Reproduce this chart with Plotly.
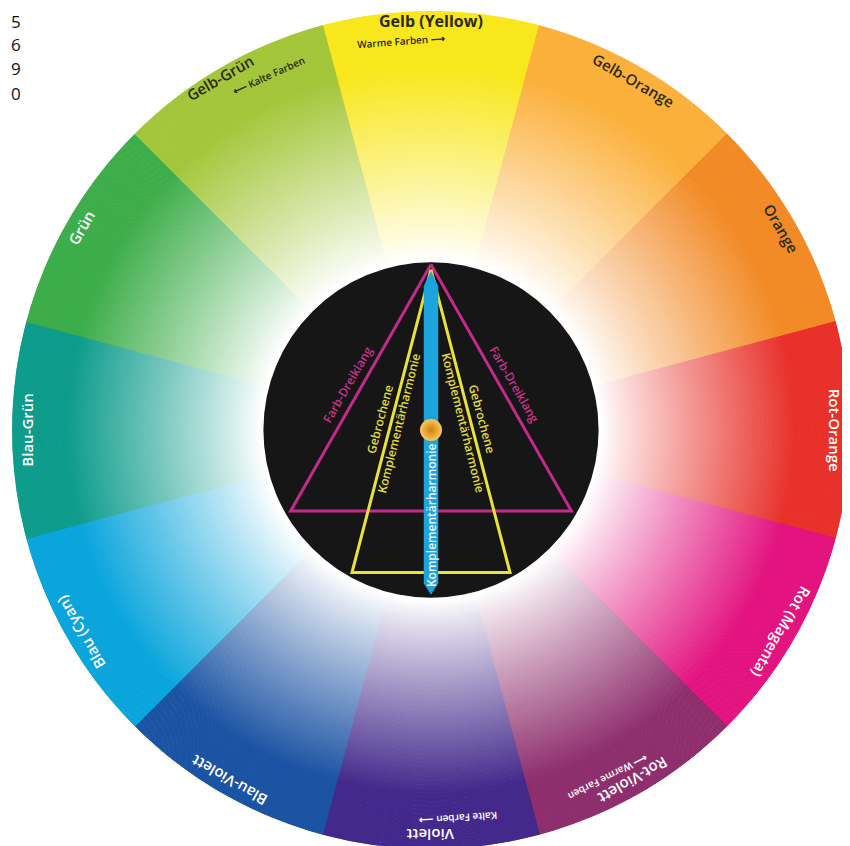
import numpy as np
import plotly.graph_objects as go

# ---------------- data ----------------
segments = ["Gelb (Yellow)", "Gelb-Orange", "Orange", "Rot-Orange", "Rot (Magenta)", "Rot-Violett",
            "Violett", "Blau-Violett", "Blau (Cyan)", "Blau-Grün", "Grün", "Gelb-Grün"]
seg_angles = [90, 60, 30, 0, -30, -60, -90, -120, -150, 180, 150, 120]
seg_span = [30] * 12
seg_colors = ["#f8e71c", "#fbb03b", "#f28a26", "#e8312a", "#e3137f", "#8e2e6d",
              "#43298b", "#1b53a3", "#0aa5dc", "#0e9c8c", "#3dad4a", "#a3c63a"]
label_colors = ["#2b2a12", "#2b2a12", "#2b2a12", "#ffffff", "#ffffff", "#ffffff",
                "#ffffff", "#ffffff", "#ffffff", "#ffffff", "#ffffff", "#2b2a12"]

hint_texts = ["Warme Farben \u27f6", "\u27f5 Kalte Farben", "Kalte Farben \u27f6", "\u27f5 Warme Farben"]
hint_angles = [94.4, 114.5, -86, -63]
hint_colors = ["#2b2a12", "#2b2a12", "#ffffff", "#ffffff"]

inner_texts = ["Farb-Dreiklang", "Farb-Dreiklang", "Gebrochene", "Gebrochene",
               "Komplementärharmonie", "Komplementärharmonie", "Komplementärharmonie"]
inner_angles = [151.5, 28.5, 168, 12, 168.5, 11.5, 270]
inner_radii = [0.226, 0.226, 0.126, 0.126, 0.079, 0.079, 0.203]
inner_rot = [-60, 60, -75, 75, -76, 76, -90]
inner_colors = ["#c8348e", "#c8348e", "#e4dd3c", "#e4dd3c", "#e4dd3c", "#e4dd3c", "#eef6fb"]

triad_angles = [90, 210, 330]          # Farb-Dreiklang
split_angles = [90, 241, 299]          # Gebrochene Komplementärharmonie
corner_digits = ["5", "6", "9", "0"]

# ---------------- geometry ----------------
OFF = 8                      # page body margin of the browser
W, H = 850, 846
ML, MR, MT, MB = 4, 8, 3, 5
w, h = W - ML - MR, H - MT - MB
R = min(w, h) / 2.0


def to_paper(rf, deg):
    a = np.radians(deg)
    return 0.5 + rf * R * np.cos(a) / w, 0.5 + rf * R * np.sin(a) / h


def mix(c, s):
    c = c.lstrip("#")
    rgb = [int(c[i:i + 2], 16) for i in (0, 2, 4)]
    out = [round(255 + (v - 255) * s) for v in rgb]
    return "rgb(%d,%d,%d)" % tuple(out)


fig = go.Figure()

# colour wheel: radial bands per wedge
n_bands = 160
edges = np.linspace(0.38, 1.0, n_bands + 1)
th, base, length, wid, cols = [], [], [], [], []
for ang, span, col in zip(seg_angles, seg_span, seg_colors):
    for i in range(n_bands):
        r0, r1 = edges[i], edges[i + 1]
        rm = (r0 + r1) / 2
        s = np.clip((rm - 0.41) / 0.46, 0, 1) ** 0.9
        th.append(ang)
        base.append(float(r0))
        length.append(float(r1 - r0))
        wid.append(span)
        cols.append(mix(col, s))
fig.add_trace(go.Barpolar(r=length, base=base, theta=th, width=wid,
                          marker=dict(color=cols, line=dict(color=cols, width=1)),
                          hoverinfo="skip"))

# black disc
fig.add_trace(go.Barpolar(r=[0.4], base=[0], theta=[0], width=[360],
                          marker=dict(color="#161616", line=dict(width=0)), hoverinfo="skip"))

# magenta triad triangle
tri_r = [0.395, 0.387, 0.387]
fig.add_trace(go.Scatterpolar(r=tri_r + [tri_r[0]], theta=triad_angles + [triad_angles[0]],
                              mode="lines", line=dict(color="#c42a8c", width=3), hoverinfo="skip"))
# yellow split-complementary triangle
spl_r = [0.383, 0.389, 0.389]
fig.add_trace(go.Scatterpolar(r=spl_r + [spl_r[0]], theta=split_angles + [split_angles[0]],
                              mode="lines", line=dict(color="#e8e23a", width=3), hoverinfo="skip"))

# blue complementary bar (pointed ends)
hw = 7 / R
bx = [0, hw, hw, 0, -hw, -hw, 0]
by = [0.378, 0.343, -0.366, -0.392, -0.366, 0.343, 0.378]
br = [float(np.hypot(x, y)) for x, y in zip(bx, by)]
bt = [float(np.degrees(np.arctan2(y, x))) for x, y in zip(bx, by)]
fig.add_trace(go.Scatterpolar(r=br, theta=bt, mode="lines", fill="toself",
                              fillcolor="#1ea4dc", line=dict(color="#1ea4dc", width=0.5),
                              hoverinfo="skip"))

# orange ball
fig.add_trace(go.Scatterpolar(r=[0], theta=[0], mode="markers",
                              marker=dict(size=22, color="#fcc85e",
                                          gradient=dict(type="radial", color="#d27e0c"),
                                          line=dict(width=0)), hoverinfo="skip"))

ann = []
# outer labels
for name, ang, col in zip(segments, seg_angles, label_colors):
    rr = 0.975 if ang == 90 else 0.965
    x, y = to_paper(rr, ang)
    if name.startswith("Gelb-Gr"):
        x, y = to_paper(0.98, 121)
    ann.append(dict(x=x, y=y, xref="paper", yref="paper", text=name, showarrow=False,
                    textangle=90 - ang, xanchor="center", yanchor="middle",
                    font=dict(family="Open Sans", size=16 if ang == 90 else 15,
                              weight=700 if ang == 90 else 600, color=col)))
# warm / cold hints
for t, ang, col in zip(hint_texts, hint_angles, hint_colors):
    x, y = to_paper(0.93, ang)
    ann.append(dict(x=x, y=y, xref="paper", yref="paper", text=t, showarrow=False,
                    textangle=90 - ang, xanchor="center", yanchor="middle",
                    font=dict(family="Open Sans", size=10, weight=600, color=col)))
# inner texts
for t, ang, rr, rot, col in zip(inner_texts, inner_angles, inner_radii, inner_rot, inner_colors):
    x, y = to_paper(rr, ang)
    ann.append(dict(x=x, y=y, xref="paper", yref="paper", text=t, showarrow=False,
                    textangle=rot, xanchor="center", yanchor="middle",
                    font=dict(family="Open Sans", size=12, weight=600, color=col)))
# corner digits (screen px -> paper, allowing for the page offset)
for i, d in enumerate(corner_digits):
    py = 21 + 24 * i - OFF
    px = 9 - OFF
    ann.append(dict(x=(px - ML) / w, y=1 - (py - MT) / h, xref="paper", yref="paper", text=d,
                    showarrow=False, xanchor="left", yanchor="middle",
                    font=dict(family="Open Sans", size=17, color="#111111")))

fig.update_layout(
    width=W, height=H, margin=dict(l=ML, r=MR, t=MT, b=MB),
    paper_bgcolor="white", plot_bgcolor="white", showlegend=False,
    polar=dict(domain=dict(x=[0, 1], y=[0, 1]), bgcolor="rgba(0,0,0,0)", bargap=0,
               radialaxis=dict(visible=False, range=[0, 1]),
               angularaxis=dict(visible=False, rotation=0, direction="counterclockwise")),
    annotations=ann,
)

fig.write_html("out.html")
